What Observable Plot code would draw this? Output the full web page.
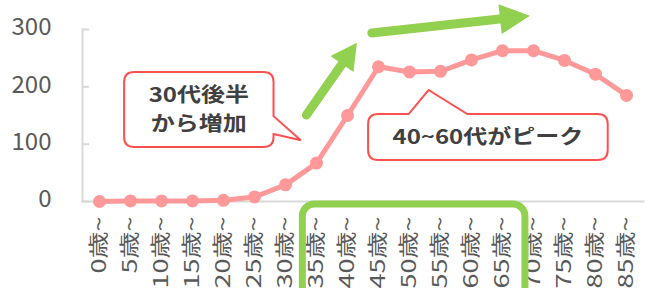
<!DOCTYPE html>
<html>
<head>
<meta charset="utf-8">
<script src="https://cdn.jsdelivr.net/npm/d3@7"></script>
<script src="https://cdn.jsdelivr.net/npm/@observablehq/plot@0.6"></script>
<style>
  html, body { margin: 0; padding: 0; background: #fff; overflow: hidden; }
  #chart svg { display: block; }
</style>
</head>
<body>
<div id="chart"></div>
<script>
const categories = ["0歳~","5歳~","10歳~","15歳~","20歳~","25歳~","30歳~","35歳~","40歳~","45歳~","50歳~","55歳~","60歳~","65歳~","70歳~","75歳~","80歳~","85歳~"];
const values = [0, 1, 1, 1, 2, 8, 29, 67, 150, 235, 226, 227, 247, 263, 263, 246, 222, 185];
const yTicks = [0, 100, 200, 300];
const calloutTexts = [["30代後半", "から増加"], ["40~60代がピーク"]];

const data = categories.map((c, i) => ({ age: c, value: values[i] }));

const axisColor = "#d9d9d9";
const textColor = "#595959";
const lineColor = "#ff9999";
const green = "#92d050";
const red = "#ff5050";
const font = "'Noto Sans CJK JP', 'Noto Sans', sans-serif";

const chart = Plot.plot({
  width: 653,
  height: 288,
  marginLeft: 82,
  marginRight: 10,
  marginTop: 29,
  marginBottom: 87,
  style: { fontFamily: font, background: "#fff", overflow: "hidden" },
  x: { type: "point", domain: categories, padding: 0.5, label: null },
  y: { domain: [0, 300], label: null },
  marks: [
    Plot.frame({ anchor: "left", stroke: axisColor, strokeWidth: 2 }),
    Plot.frame({ anchor: "bottom", stroke: axisColor, strokeWidth: 2 }),
    Plot.axisY(yTicks, { tickSize: 7, dx: 7, tickFormat: () => "", stroke: axisColor, strokeWidth: 2 }),
    Plot.axisY(yTicks, { tickSize: 0, tickPadding: 31, fontSize: 24, fill: textColor, dy: -2 }),
    Plot.axisX({ tickSize: 0, tickRotate: -90, tickPadding: 15, fontSize: 20, fill: textColor }),
    Plot.line(data, { x: "age", y: "value", stroke: lineColor, strokeWidth: 5 }),
    Plot.dot(data, { x: "age", y: "value", r: 6.5, fill: lineColor, stroke: "none" })
  ]
});
document.getElementById("chart").appendChild(chart);

// the reference's glyphs are elongated along the text direction
d3.select(chart).selectAll('g[aria-label="x-axis tick label"] text').each(function () {
  const L = this.getComputedTextLength();
  this.setAttribute("textLength", L * 1.35);
  this.setAttribute("lengthAdjust", "spacingAndGlyphs");
});

// annotations, anchored in data space (fractional category index, value)
const xs = chart.scale("x"), ys = chart.scale("y");
const x0c = xs.apply(categories[0]);
const step = xs.apply(categories[1]) - x0c;
const fx = i => x0c + i * step;
const fy = v => ys.apply(v);
const svg = d3.select(chart);
const g = svg.append("g");

// green rounded rectangle around 35~65 labels
{
  const x0 = fx(6.56), x1 = fx(13.74), y0 = fy(-5.2), y1 = fy(-175);
  g.append("rect").attr("x", x0).attr("y", y0).attr("width", x1 - x0).attr("height", y1 - y0)
    .attr("rx", 12).attr("fill", "none").attr("stroke", green).attr("stroke-width", 7);
}

// arrows
function arrow(t0, t1, w, hl, hw) {
  const ax = fx(t0[0]), ay = fy(t0[1]), bx = fx(t1[0]), by = fy(t1[1]);
  const dx = bx - ax, dy = by - ay, L = Math.hypot(dx, dy);
  const ux = dx / L, uy = dy / L, px = -uy, py = ux;
  const mx = bx - ux * hl, my = by - uy * hl;
  g.append("line").attr("x1", ax).attr("y1", ay).attr("x2", mx + ux * 2).attr("y2", my + uy * 2)
    .attr("stroke", green).attr("stroke-width", w).attr("stroke-linecap", "round");
  g.append("path").attr("d", `M${bx},${by}L${mx + px * hw / 2},${my + py * hw / 2}L${mx - px * hw / 2},${my - py * hw / 2}Z`)
    .attr("fill", green);
}
arrow([6.69, 150], [8.32, 276], 9, 26, 28);
arrow([8.80, 293], [13.90, 323], 9, 30, 30);

function calloutText(x, y, t) {
  const el = g.append("text").attr("x", x).attr("y", y).attr("dy", "0.35em")
    .attr("text-anchor", "middle").attr("font-family", font).attr("font-weight", 700)
    .attr("font-size", 20).attr("fill", "#404040").text(t);
  const L = el.node().getComputedTextLength();
  el.attr("textLength", L * 1.2).attr("lengthAdjust", "spacingAndGlyphs");
}

// callout 1
{
  const r = 10;
  const x0 = fx(0.81), x1 = fx(5.63), y0 = fy(225), y1 = fy(94);
  const ta = fy(148), tb = fy(117), tx = fx(6.51), ty = fy(106);
  const d = `M${x0 + r},${y0}H${x1 - r}Q${x1},${y0} ${x1},${y0 + r}V${ta}L${tx},${ty}L${x1},${tb}V${y1 - r}Q${x1},${y1} ${x1 - r},${y1}H${x0 + r}Q${x0},${y1} ${x0},${y1 - r}V${y0 + r}Q${x0},${y0} ${x0 + r},${y0}Z`;
  g.append("path").attr("d", d).attr("fill", "#fff").attr("stroke", red).attr("stroke-width", 2);
  const cx = (x0 + x1) / 2, cy = (y0 + y1) / 2;
  calloutTexts[0].forEach((t, k) => calloutText(cx, cy + (k - 0.5) * 29, t));
}

// callout 2
{
  const r = 10;
  const x0 = fx(8.68), x1 = fx(16.41), y0 = fy(151.7), y1 = fy(71.5);
  const bl = fx(9.99), br = fx(11.88), tx = fx(10.63), ty = fy(193.6);
  const d = `M${x0 + r},${y0}H${bl}L${tx},${ty}L${br},${y0}H${x1 - r}Q${x1},${y0} ${x1},${y0 + r}V${y1 - r}Q${x1},${y1} ${x1 - r},${y1}H${x0 + r}Q${x0},${y1} ${x0},${y1 - r}V${y0 + r}Q${x0},${y0} ${x0 + r},${y0}Z`;
  g.append("path").attr("d", d).attr("fill", "#fff").attr("stroke", red).attr("stroke-width", 2);
  calloutText((x0 + x1) / 2, (y0 + y1) / 2, calloutTexts[1][0]);
}
</script>
</body>
</html>
